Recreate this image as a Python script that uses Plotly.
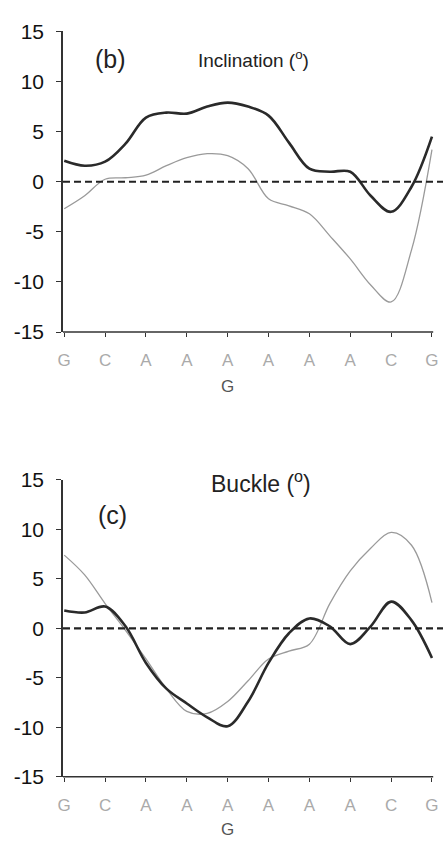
import plotly.graph_objects as go

# ---- data ----
categories = ["G", "C", "A", "A", "A", "A", "A", "A", "C", "G"]
cat_pos = list(range(10))
x_pos = [0, 0.5, 1, 1.5, 2, 2.5, 3, 3.5, 4, 4.5, 5, 5.5, 6, 6.5, 7, 7.5, 8, 8.5, 9]

incl_black = [2.1, 1.6, 2.0, 3.8, 6.4, 6.9, 6.8, 7.5, 7.9, 7.5, 6.6, 3.9, 1.3, 1.0, 1.0, -1.4, -3.0, -0.5, 4.5]
incl_gray = [-2.7, -1.4, 0.25, 0.4, 0.65, 1.6, 2.4, 2.8, 2.6, 1.3, -1.7, -2.4, -3.2, -5.4, -7.7, -10.3, -12.0, -6.8, 3.2]

buck_black = [1.8, 1.6, 2.2, 0.2, -3.5, -6.1, -7.6, -9.0, -9.9, -7.4, -3.5, -0.5, 1.0, 0.2, -1.6, 0.2, 2.7, 0.8, -3.0]
buck_gray = [7.4, 5.4, 2.5, -0.2, -3.1, -6.1, -8.4, -8.6, -7.4, -5.3, -3.1, -2.3, -1.6, 2.5, 5.8, 8.1, 9.7, 8.4, 2.6]

y_ticks = [-15, -10, -5, 0, 5, 10, 15]
y_tick_labels = ["-15", "-10", "-5", "0", "5", "10", "15"]

FONT = "Liberation Sans"
X_RANGE = [-0.03, 9.27]

fig = go.Figure()

panels = [
    ("x", "y", incl_gray, incl_black),
    ("x2", "y2", buck_gray, buck_black),
]
for xa, ya, g, b in panels:
    fig.add_trace(go.Scatter(x=x_pos, y=g, xaxis=xa, yaxis=ya, mode="lines",
                             line=dict(color="#9a9a9a", width=1.3, shape="spline", smoothing=1.0),
                             showlegend=False, hoverinfo="skip"))
    fig.add_trace(go.Scatter(x=x_pos, y=b, xaxis=xa, yaxis=ya, mode="lines",
                             line=dict(color="#2a2a2a", width=2.6, shape="spline", smoothing=1.0),
                             showlegend=False, hoverinfo="skip"))

xcommon = dict(range=X_RANGE, tickvals=cat_pos, ticktext=categories, ticks="outside",
               ticklen=4, tickwidth=1.2, tickcolor="#333", showline=False, showgrid=False,
               zeroline=False, tickfont=dict(family=FONT, size=17, color="#aaaaaa"),
               ticklabelstandoff=9, fixedrange=True)
ycommon = dict(range=[-15, 15], tickvals=y_ticks, ticktext=y_tick_labels, ticks="outside",
               ticklen=5, tickwidth=1.2,
               tickcolor="#333", showline=True, linecolor="#333", linewidth=1.5,
               showgrid=False, zeroline=False,
               tickfont=dict(family=FONT, size=21, color="#111"), ticklabelstandoff=8,
               fixedrange=True)

fig.update_layout(
    width=443, height=847,
    margin=dict(l=63, r=0, t=0, b=0),
    paper_bgcolor="white", plot_bgcolor="white",
    xaxis=dict(anchor="y", domain=[0, 1], **xcommon),
    yaxis=dict(anchor="x", domain=[0.6116, 0.9764], **ycommon),
    xaxis2=dict(anchor="y2", domain=[0, 1], **xcommon),
    yaxis2=dict(anchor="x2", domain=[0.072, 0.4321], **ycommon),
)

shapes = []
for xr, yr in [("x", "y"), ("x2", "y2")]:
    # x-axis baseline up to the last category
    shapes.append(dict(type="line", xref=xr, yref=yr + " domain", x0=X_RANGE[0], x1=cat_pos[-1] + 0.03,
                       y0=0, y1=0, line=dict(color="#333", width=1.5)))
    # dashed zero line
    shapes.append(dict(type="line", xref=xr + " domain", yref=yr, x0=0, x1=1, y0=0, y1=0,
                       line=dict(color="#222", width=2.2, dash="7px,4px")))
fig.update_layout(shapes=shapes)

annotations = [
    dict(text="(b)", xref="paper", yref="paper", x=0.126, y=0.9433, showarrow=False,
         font=dict(family=FONT, size=25, color="#222"), xanchor="center", yanchor="middle"),
    dict(text="Inclination (<sup>o</sup>)", xref="paper", yref="paper", x=0.5, y=0.9433,
         showarrow=False, font=dict(family=FONT, size=19, color="#222"),
         xanchor="center", yanchor="middle"),
    dict(text="(c)", xref="paper", yref="paper", x=0.129, y=0.3896, showarrow=False,
         font=dict(family=FONT, size=25, color="#222"), xanchor="center", yanchor="middle"),
    dict(text="Buckle (<sup>o</sup>)", xref="paper", yref="paper", x=0.521, y=0.4298,
         showarrow=False, font=dict(family=FONT, size=23, color="#222"),
         xanchor="center", yanchor="middle"),
    dict(text="G", xref="x", yref="paper", x=4, y=0.5455, showarrow=False,
         font=dict(family=FONT, size=17, color="#555"), xanchor="center", yanchor="middle"),
    dict(text="G", xref="x2", yref="paper", x=4, y=0.0083, showarrow=False,
         font=dict(family=FONT, size=17, color="#555"), xanchor="center", yanchor="middle"),
]
fig.update_layout(annotations=annotations)

fig.write_html("out.html")
